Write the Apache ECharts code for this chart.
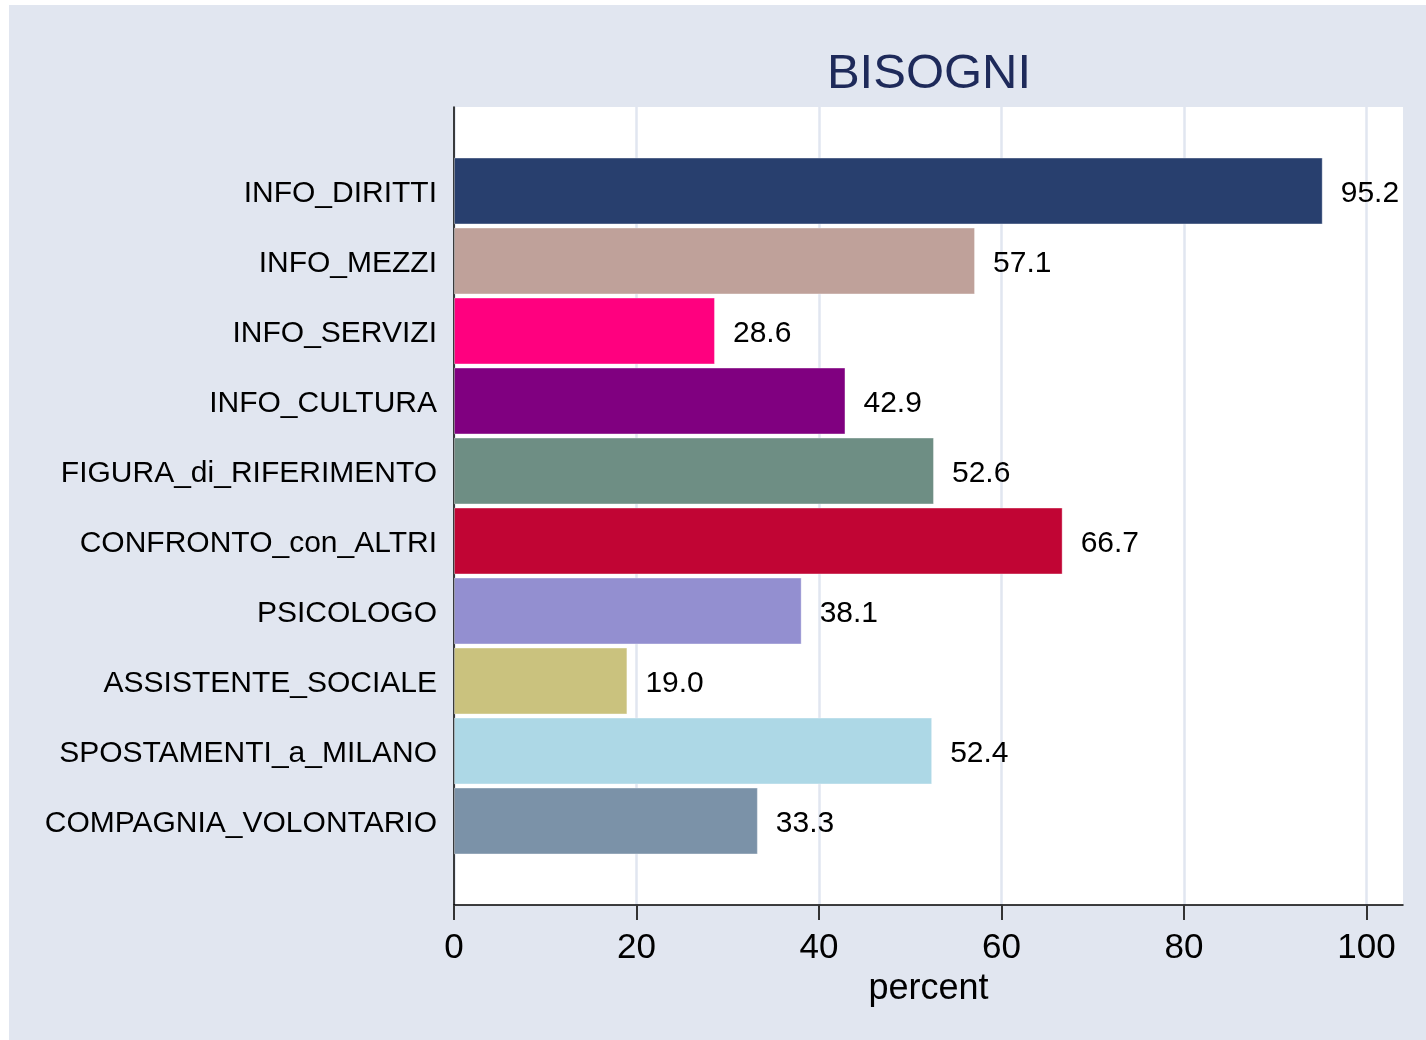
<!DOCTYPE html>
<html>
<head>
<meta charset="utf-8">
<script src="https://cdn.jsdelivr.net/npm/echarts@6/dist/echarts.min.js"></script>
<style>
  html, body { margin: 0; padding: 0; background: #ffffff; }
  #bg { position: absolute; left: 9px; top: 5px; width: 1417px; height: 1035px; background: #e1e6f0; }
  #chart { position: absolute; left: 0; top: 0; width: 1426px; height: 1040px; }
</style>
</head>
<body>
<div id="bg"></div>
<div id="chart"></div>
<script>
const categories = [
  'INFO_DIRITTI', 'INFO_MEZZI', 'INFO_SERVIZI', 'INFO_CULTURA',
  'FIGURA_di_RIFERIMENTO', 'CONFRONTO_con_ALTRI', 'PSICOLOGO',
  'ASSISTENTE_SOCIALE', 'SPOSTAMENTI_a_MILANO', 'COMPAGNIA_VOLONTARIO'
];
const percentValues = [95.2, 57.1, 28.6, 42.9, 52.6, 66.7, 38.1, 19.0, 52.4, 33.3];
const barColors = [
  '#283f6e', '#bfa19a', '#ff007f', '#800080', '#6e8e84',
  '#c10534', '#938fd0', '#cac27e', '#add8e6', '#7b92a8'
];
const xTicks = [0, 20, 40, 60, 80, 100];

const FONT = '"Liberation Sans", Arial, sans-serif';
const chart = echarts.init(document.getElementById('chart'));

chart.setOption({
  backgroundColor: 'transparent',
  animation: false,
  title: {
    text: 'BISOGNI',
    left: 924,
    top: 45,
    textAlign: 'center',
    textStyle: { fontSize: 49, fontWeight: 'normal', color: '#1e2a5a', fontFamily: FONT }
  },
  grid: [
    { left: 454, top: 107, width: 949, height: 798, show: true, backgroundColor: '#ffffff', borderWidth: 0 },
    { left: 454, top: 156, width: 949, height: 700, show: false }
  ],
  xAxis: [
    {
      gridIndex: 0, type: 'value', min: 0, max: 104, interval: 20,
      name: 'percent', nameLocation: 'middle', nameGap: 55,
      nameTextStyle: { fontSize: 36, color: '#000', fontFamily: FONT },
      axisLine: { show: true, onZero: false, lineStyle: { color: '#000', width: 1.5 } },
      axisTick: { show: true, inside: false, length: 15, lineStyle: { color: '#333', width: 2 }, customValues: xTicks },
      axisLabel: {
        show: true, margin: 26, fontSize: 35, color: '#000', fontFamily: FONT,
        customValues: xTicks,
        formatter: v => (v % 20 === 0 ? String(v) : '')
      },
      splitLine: { show: true, lineStyle: { color: '#e1e6f0', width: 2.5 } }
    },
    {
      gridIndex: 1, type: 'value', min: 0, max: 104, show: false
    }
  ],
  yAxis: [
    {
      gridIndex: 0, type: 'value', min: 0, max: 1,
      axisLine: { show: true, onZero: false, lineStyle: { color: '#000', width: 1.5 } },
      axisTick: { show: false }, axisLabel: { show: false }, splitLine: { show: false }
    },
    {
      gridIndex: 1, type: 'category', data: categories, inverse: true,
      axisLine: { show: false }, axisTick: { show: false }, splitLine: { show: false },
      axisLabel: {
        margin: 17,
        formatter: v => '{c|' + v + '}',
        rich: { c: { fontSize: 30, color: '#000', fontFamily: FONT, padding: [6, 0, 0, 0] } }
      }
    }
  ],
  series: [
    {
      type: 'bar', xAxisIndex: 1, yAxisIndex: 1,
      barCategoryGap: '4.5%',
      data: percentValues.map((v, i) => ({ value: v, itemStyle: { color: barColors[i] } })),
      itemStyle: { borderColor: 'rgba(255,255,255,0.35)', borderWidth: 1 },
      label: {
        show: true, position: 'right', distance: 18, offset: [0, 3],
        fontSize: 30, color: '#000', fontFamily: FONT,
        formatter: p => p.value.toFixed(1)
      }
    }
  ]
});
</script>
</body>
</html>
